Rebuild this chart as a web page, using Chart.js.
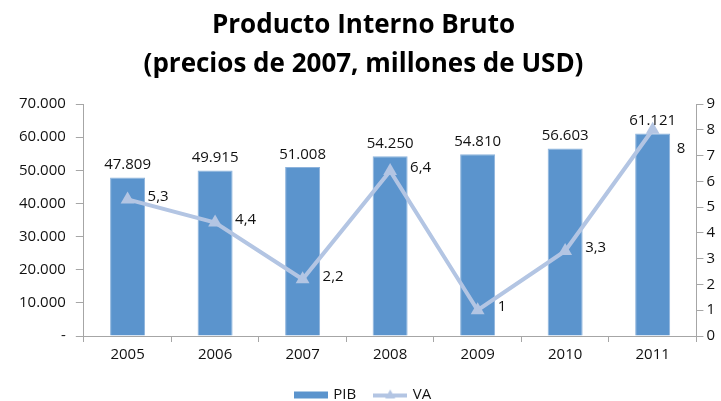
<!DOCTYPE html>
<html>
<head>
<meta charset="utf-8">
<script src="https://cdn.jsdelivr.net/npm/chart.js@4.4.1/dist/chart.umd.min.js"></script>
<style>
  html, body { margin: 0; padding: 0; background: #ffffff; }
  #wrap { width: 721px; height: 401px; }
</style>
</head>
<body>
<div id="wrap"><canvas id="c" width="721" height="401"></canvas></div>
<script>
const years = ['2005', '2006', '2007', '2008', '2009', '2010', '2011'];
const pib = [47809, 49915, 51008, 54250, 54810, 56603, 61121];
const va = [5.3, 4.4, 2.2, 6.4, 1, 3.3, 8];

const BAR_COLOR = '#5b94cd';
const LINE_COLOR = '#b3c5e3';
const TEXT_COLOR = '#111111';
const FONT = '"Open Sans", "DejaVu Sans", sans-serif';

function fmtThousands(v) {
  if (v === 0) return '-';
  return String(Math.round(v)).replace(/\B(?=(\d{3})+(?!\d))/g, '.');
}

function fmtDecimal(v) {
  return String(v).replace('.', ',');
}

function legendSwatch(kind) {
  const cv = document.createElement('canvas');
  cv.width = 34;
  cv.height = 12;
  const ctx = cv.getContext('2d');
  if (kind === 'bar') {
    ctx.fillStyle = BAR_COLOR;
    ctx.fillRect(0, 3, 34, 7);
  } else {
    ctx.strokeStyle = LINE_COLOR;
    ctx.lineWidth = 4;
    ctx.beginPath();
    ctx.moveTo(0, 7);
    ctx.lineTo(34, 7);
    ctx.stroke();
    ctx.fillStyle = LINE_COLOR;
    ctx.beginPath();
    ctx.moveTo(17, 1);
    ctx.lineTo(22, 10);
    ctx.lineTo(12, 10);
    ctx.closePath();
    ctx.fill();
  }
  return cv;
}

// etiquetas de datos (barras arriba, línea a la derecha)
const valueLabels = {
  id: 'valueLabels',
  afterDatasetsDraw(chart) {
    const ctx = chart.ctx;
    ctx.save();
    ctx.font = '15px ' + FONT;
    ctx.fillStyle = TEXT_COLOR;

    chart.getDatasetMeta(1).data.forEach((bar, i) => {
      ctx.textAlign = 'center';
      ctx.textBaseline = 'bottom';
      ctx.fillText(fmtThousands(pib[i]), bar.x, bar.y - 5);
    });

    chart.getDatasetMeta(0).data.forEach((pt, i) => {
      ctx.textAlign = 'left';
      ctx.textBaseline = 'middle';
      const last = i === va.length - 1;
      ctx.fillText(fmtDecimal(va[i]), pt.x + (last ? 24 : 20), pt.y + (last ? 19 : -3));
    });
    ctx.restore();
  }
};

new Chart(document.getElementById('c').getContext('2d'), {
  data: {
    labels: years,
    datasets: [
      {
        type: 'line',
        label: 'VA',
        data: va,
        yAxisID: 'y1',
        borderColor: LINE_COLOR,
        backgroundColor: LINE_COLOR,
        borderWidth: 4,
        pointStyle: 'triangle',
        pointRadius: 8,
        pointBorderWidth: 0,
        tension: 0,
        order: 0,
      },
      {
        type: 'bar',
        label: 'PIB',
        data: pib,
        yAxisID: 'y',
        backgroundColor: BAR_COLOR,
        borderColor: '#8db3dc',
        borderWidth: 1,
        barPercentage: 0.4,
        categoryPercentage: 1,
        order: 1,
      },
    ],
  },
  options: {
    responsive: false,
    animation: false,
    layout: { padding: { left: 9, right: 3, top: 4, bottom: -11 } },
    scales: {
      x: {
        grid: {
          offset: true,
          drawOnChartArea: false,
          tickLength: 6,
          color: '#a6a6a6',
        },
        border: { color: '#a6a6a6' },
        ticks: { color: TEXT_COLOR, font: { family: FONT, size: 15 }, padding: 4 },
      },
      y: {
        position: 'left',
        min: 0,
        max: 70000,
        grid: { drawOnChartArea: false, tickLength: 8, color: '#a6a6a6' },
        border: { color: '#a6a6a6' },
        ticks: {
          stepSize: 10000,
          color: TEXT_COLOR,
          font: { family: FONT, size: 15 },
          padding: 10,
          callback: (v) => fmtThousands(v),
        },
      },
      y1: {
        position: 'right',
        min: 0,
        max: 9,
        grid: { drawOnChartArea: false, tickLength: 7, color: '#a6a6a6' },
        border: { color: '#a6a6a6' },
        ticks: {
          stepSize: 1,
          color: TEXT_COLOR,
          font: { family: FONT, size: 15 },
          padding: 3,
        },
      },
    },
    plugins: {
      title: {
        display: true,
        text: ['Producto Interno Bruto', '(precios de 2007, millones de USD)'],
        color: '#000000',
        font: { family: FONT, size: 26, weight: 'bold', lineHeight: 1.5 },
        padding: { top: 2, bottom: 20 },
      },
      legend: {
        position: 'bottom',
        labels: {
          usePointStyle: true,
          pointStyleWidth: 30,
          color: TEXT_COLOR,
          font: { family: FONT, size: 15 },
          padding: 19,
          generateLabels: () => [
            { text: 'PIB', pointStyle: legendSwatch('bar'), datasetIndex: 1, fontColor: TEXT_COLOR },
            { text: 'VA', pointStyle: legendSwatch('line'), datasetIndex: 0, fontColor: TEXT_COLOR },
          ],
        },
      },
      tooltip: { enabled: false },
    },
  },
  plugins: [valueLabels],
});
</script>
</body>
</html>
